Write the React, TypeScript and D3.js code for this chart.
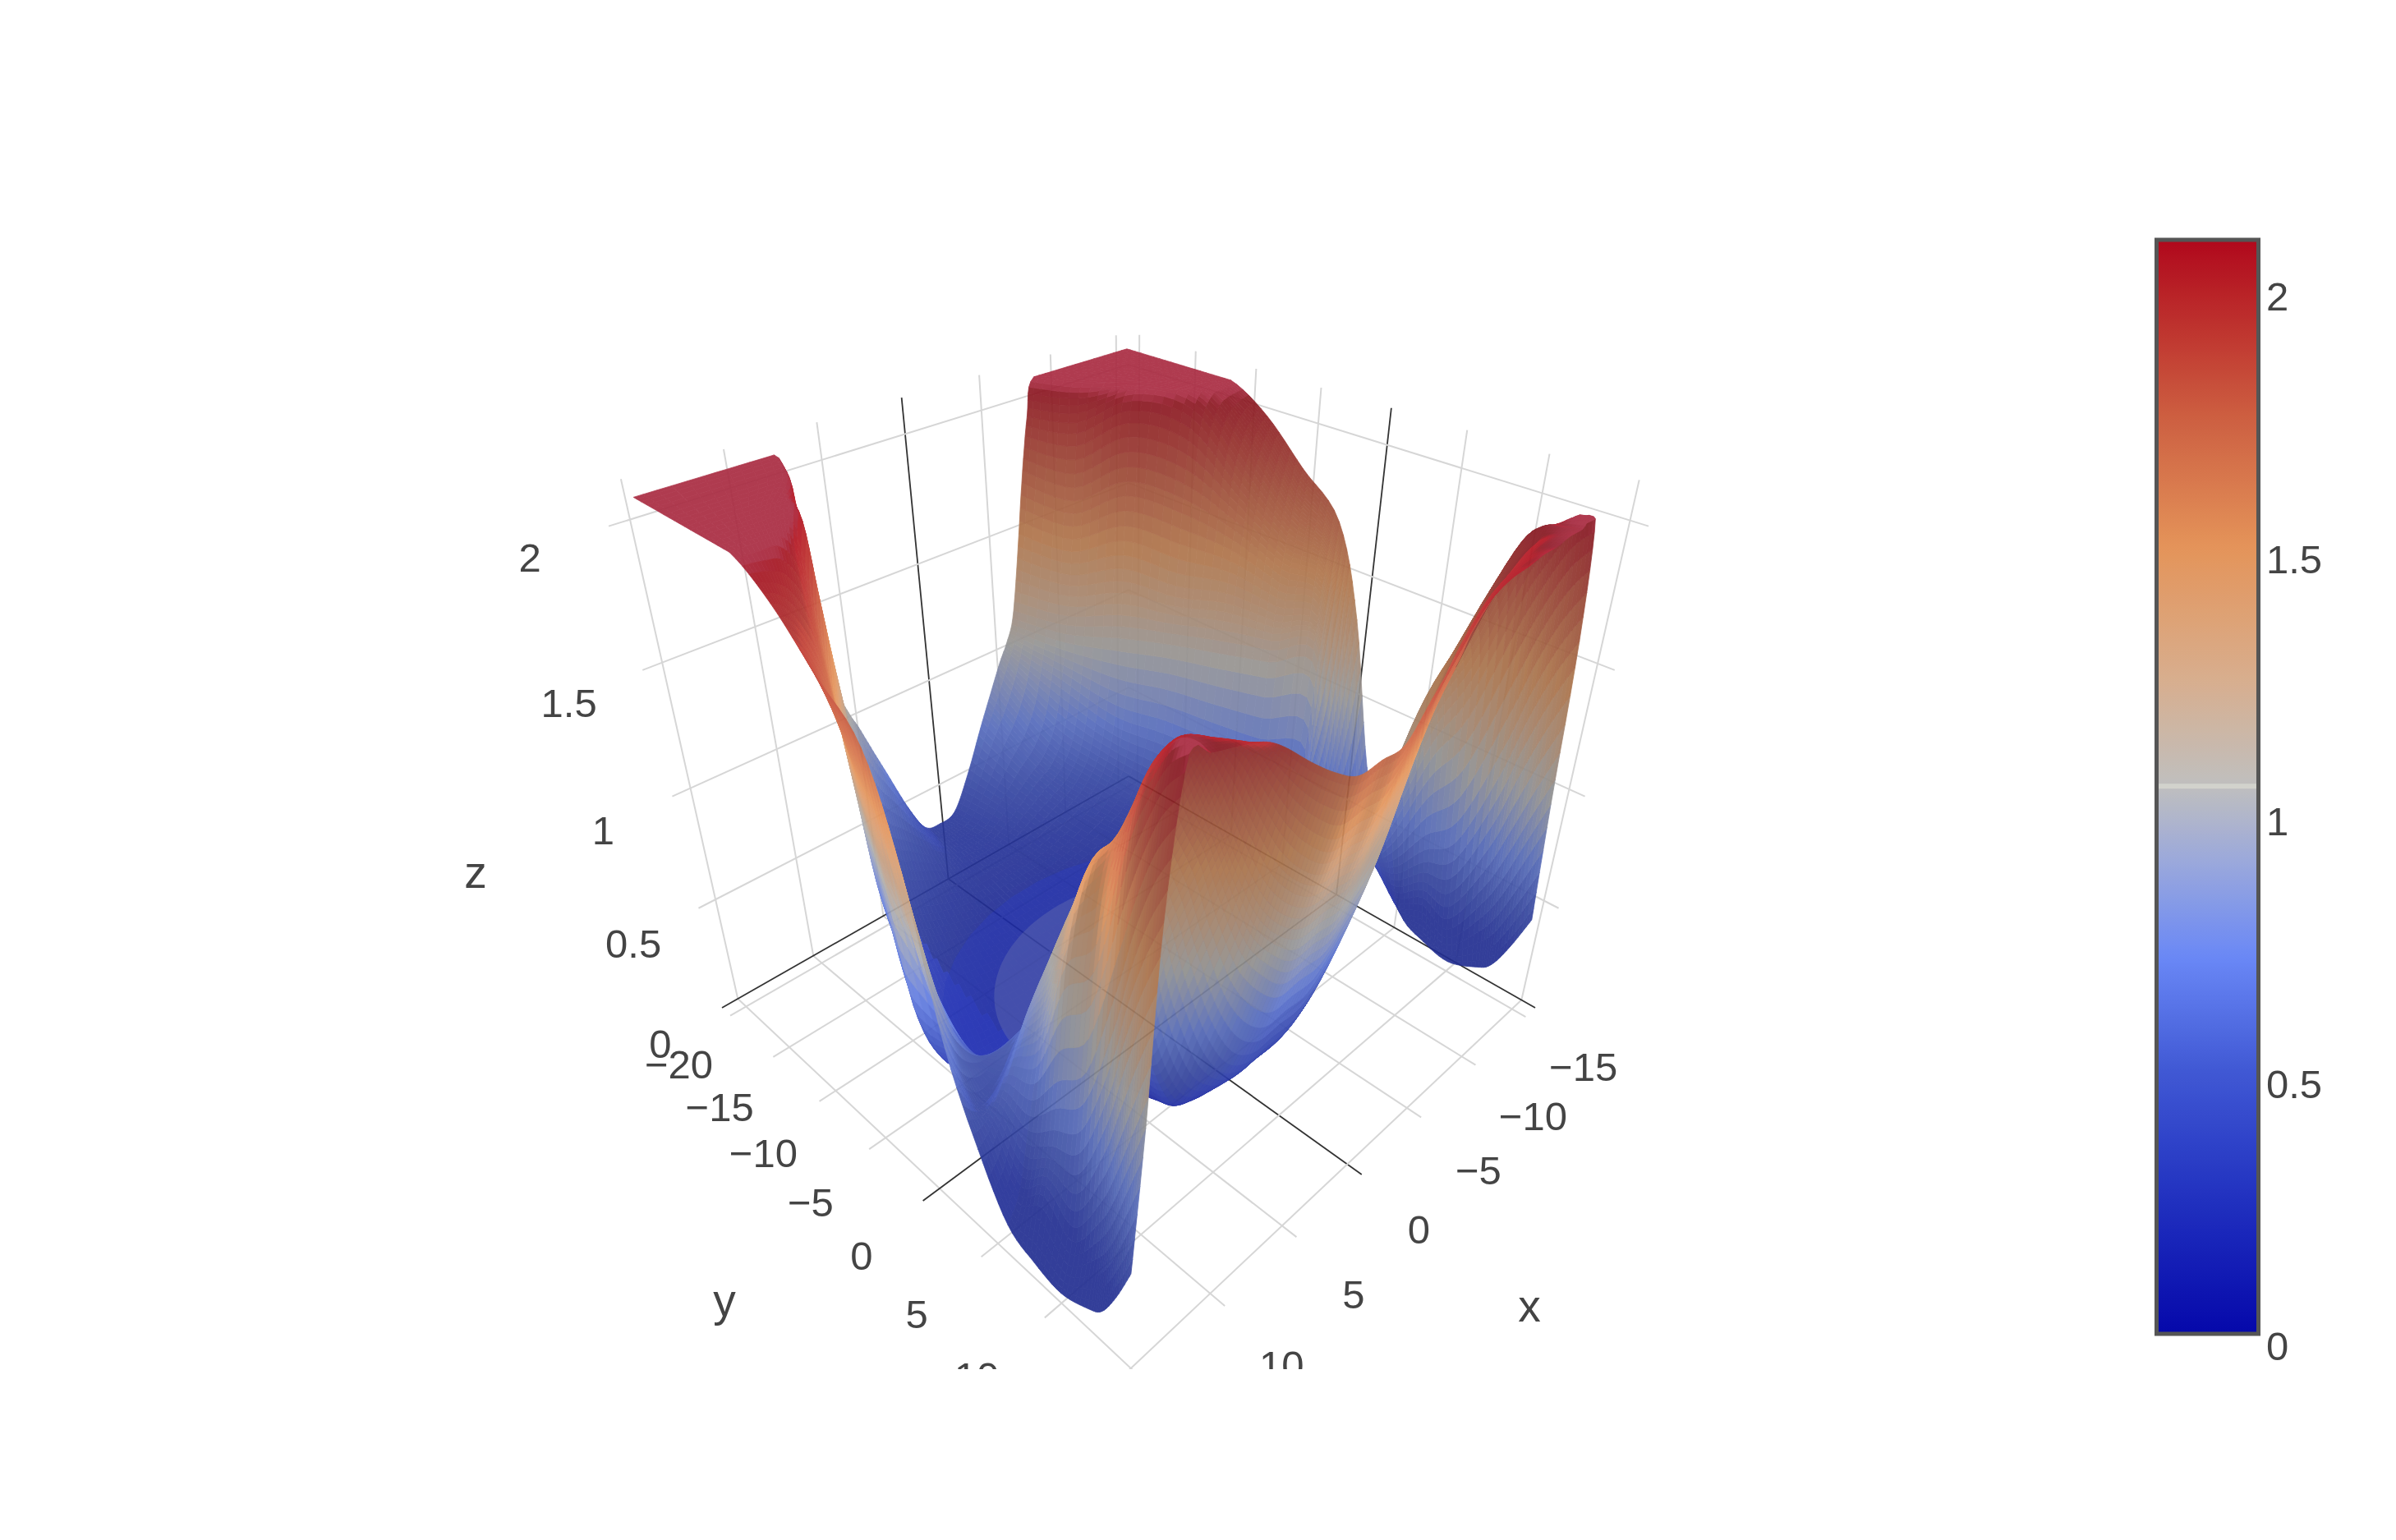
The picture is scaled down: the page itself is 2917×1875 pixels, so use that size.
import React, { useMemo } from "react";
import * as d3 from "d3";

// ---- data ----
const xTicks = [-15, -10, -5, 0, 5, 10, 15];
const yTicks = [-20, -15, -10, -5, 0, 5, 10, 15];
const zTicks = [0, 0.5, 1, 1.5, 2];
const xLabelTicks = [-15, -10, -5, 0, 5, 10];
const yLabelTicks = [-20, -15, -10, -5, 0, 5, 10];

const surfaceY = [-20, -17, -14, -11, -8, -5, -2, 0, 2, 4, 6, 8, 10, 12, 13, 14, 15];
const rowCenterShift = [0.8, 0.6, 0.4, 0.2, 0.1, 0, 0, 0, 0, 0, 0, 0, 0, 0, 0, 0, 0];
const commonAbsX = [0, 1.5, 3, 4.5, 6, 7.5, 8.5, 9.5, 10.5, 11.5, 12.5, 13.5, 14.25, 15];
const surfaceAbsX = [
  [0, 1.1, 2.2, 3.4, 4.2, 5, 5.5, 6, 6.5, 7, 7.5, 8, 11, 15],
  [0, 1.5, 3, 4.5, 5.6, 6.5, 7.1, 7.5, 7.9, 8.3, 8.7, 9.2, 12, 15],
  [0, 1.9, 3.7, 5.6, 7, 8.1, 8.8, 9.3, 9.5, 9.8, 10.2, 11.5, 13, 15],
  [0, 2.2, 4.3, 6.5, 8.1, 9.4, 10.3, 10.8, 11.1, 11.5, 12, 12.8, 13.8, 15],
  [0, 2.4, 4.8, 7.2, 9, 10.4, 11.4, 12, 12.4, 12.8, 13.2, 13.8, 14.4, 15],
  [0, 2.6, 5.3, 7.9, 9.9, 11.5, 12.6, 13.2, 13.5, 13.8, 14.1, 14.4, 14.7, 15],
  [0, 2.8, 5.7, 8.5, 10.6, 12.3, 13.5, 14.2, 14.4, 14.55, 14.7, 14.8, 14.9, 15],
  [0, 2.2, 4.4, 6.4, 8, 9.5, 10.8, 12, 12.9, 13.5, 14, 14.4, 14.7, 15],
  commonAbsX, commonAbsX, commonAbsX, commonAbsX, commonAbsX, commonAbsX, commonAbsX, commonAbsX, commonAbsX,
];
const surfaceZ = [
  [0.36, 0.38, 0.52, 0.72, 0.85, 0.98, 1.05, 1.15, 1.4, 1.7, 1.95, 2.09, 2.09, 2.09],
  [0.33, 0.35, 0.43, 0.52, 0.58, 0.7, 0.9, 1.1, 1.35, 1.65, 1.95, 2.09, 2.09, 2.09],
  [0.3, 0.3, 0.33, 0.38, 0.44, 0.55, 0.75, 1.1, 1.4, 1.75, 2.05, 2.09, 2.09, 2.09],
  [0.25, 0.25, 0.27, 0.31, 0.36, 0.46, 0.7, 1.1, 1.35, 1.7, 2.0, 2.09, 2.09, 2.09],
  [0.22, 0.22, 0.23, 0.26, 0.3, 0.4, 0.65, 1.1, 1.35, 1.6, 1.78, 1.9, 1.97, 2.0],
  [0.2, 0.2, 0.2, 0.22, 0.25, 0.35, 0.6, 1.1, 1.3, 1.48, 1.6, 1.7, 1.78, 1.85],
  [0.18, 0.18, 0.19, 0.22, 0.26, 0.35, 0.6, 1.1, 1.25, 1.38, 1.48, 1.55, 1.62, 1.7],
  [0.17, 0.17, 0.17, 0.2, 0.3, 0.35, 0.37, 0.42, 0.52, 0.62, 0.8, 1.0, 1.18, 1.35],
  [0.14, 0.14, 0.14, 0.14, 0.18, 0.3, 0.45, 0.6, 0.62, 0.58, 0.5, 0.48, 0.55, 0.75],
  [0.12, 0.12, 0.12, 0.14, 0.2, 0.5, 0.8, 1.0, 0.95, 0.85, 0.7, 0.55, 0.45, 0.4],
  [0.12, 0.12, 0.12, 0.14, 0.25, 0.6, 0.95, 1.2, 1.25, 1.1, 0.85, 0.5, 0.25, 0.15],
  [0.22, 0.22, 0.22, 0.24, 0.32, 0.6, 0.95, 1.3, 1.5, 1.45, 1.2, 0.6, 0.35, 0.08],
  [0.42, 0.42, 0.42, 0.5, 0.7, 1.0, 1.25, 1.45, 1.6, 1.65, 1.35, 0.7, 0.25, 0.05],
  [0.85, 0.85, 0.85, 0.95, 1.1, 1.35, 1.55, 1.7, 1.85, 1.92, 1.75, 1.05, 0.45, 0.1],
  [1.15, 1.15, 1.15, 1.22, 1.35, 1.55, 1.7, 1.85, 1.97, 2.02, 1.9, 1.3, 0.6, 0.15],
  [1.42, 1.42, 1.42, 1.5, 1.62, 1.78, 1.9, 1.98, 2.03, 2.06, 2.02, 1.5, 0.8, 0.28],
  [1.7, 1.7, 1.7, 1.76, 1.84, 1.93, 1.98, 2.01, 2.03, 2.05, 2.08, 1.65, 1.0, 0.45],
];
// rows on the x<0 side of the near half, which differ from the x>0 side
const negativeSideFirstRow = 9;
const surfaceZNegative = [
  [0.12, 0.12, 0.12, 0.12, 0.12, 0.12, 0.13, 0.15, 0.25, 0.35, 0.4, 0.42, 0.38, 0.4],
  [0.12, 0.12, 0.12, 0.12, 0.14, 0.25, 0.4, 0.55, 0.7, 0.75, 0.7, 0.45, 0.25, 0.15],
  [0.22, 0.22, 0.24, 0.35, 0.55, 0.75, 0.9, 1.1, 1.25, 1.3, 1.1, 0.6, 0.3, 0.08],
  [0.42, 0.48, 0.6, 0.9, 1.15, 1.3, 1.4, 1.5, 1.6, 1.6, 1.35, 0.7, 0.25, 0.05],
  [0.85, 0.95, 1.05, 1.3, 1.55, 1.7, 1.78, 1.85, 1.92, 1.95, 1.75, 1.05, 0.45, 0.1],
  [1.15, 1.28, 1.4, 1.6, 1.72, 1.85, 1.92, 1.97, 2.0, 2.04, 1.9, 1.3, 0.6, 0.15],
  [1.42, 1.55, 1.7, 1.85, 1.95, 2.0, 2.02, 2.04, 2.05, 2.06, 2.02, 1.5, 0.8, 0.28],
  [1.72, 1.8, 1.9, 2.0, 2.04, 2.05, 2.06, 2.06, 2.07, 2.07, 2.08, 1.65, 1.0, 0.45],
];

// the ring seen in the bottom of the bowl
const ringCenterX = -0.5;
const ringCenterY = -1.5;
const innerRingAngles = d3.range(0, 360, 10);
const outerRingAngles = d3.range(175, 375, 10);
const innerRingRadius = 8.7;
const outerRingRadius = 11.6;
const ringZ = 0.2;

const colorZ = [0, 0.25, 0.5, 0.72, 0.9, 1.05, 1.25, 1.5, 1.75, 2.09];
const colorRGB = ["#0508aa", "#2030bf", "#4058d4", "#6a88f6", "#9aa8dc", "#c0bfbe", "#d8ae8e", "#e4945a", "#cd5f41", "#b0081c"];
const zMax = 2.09;

// ---- scales ----
const xn = d3.scaleLinear().domain([-16, 16]).range([-1, 1]);
const yn = d3.scaleLinear().domain([-21, 16]).range([-1, 1]);
const colorOf = d3.scaleLinear<string>().domain(colorZ).range(colorRGB).interpolate(d3.interpolateRgb).clamp(true);
const barY = d3.scaleLinear().domain([0, 2.09]).range([1626, 291]);

const project = (x: number, y: number, z: number): [number, number, number] => {
  const X = xn(x), Y = yn(y);
  const h = (Y - X) / 2, d = (X + Y) / 2;
  const w = 1 - 0.2555 * d - 0.109 * z;
  return [1374 + (495 * h) / w, (1227 + 40.5 * d - 363 * z) / w, w];
};

const cr = (a: number, b: number, c: number, d: number, t: number) =>
  0.5 * (2 * b + (c - a) * t + (2 * a - 5 * b + 4 * c - d) * t * t + (3 * b - a - 3 * c + d) * t * t * t);

const linePath = (a: [number, number, number], b: [number, number, number]) => {
  const p = project(...a), q = project(...b);
  return `M${p[0]},${p[1]}L${q[0]},${q[1]}`;
};
const smooth = (a: number, b: number, t: number) => {
  const u = Math.max(0, Math.min(1, (t - a) / (b - a)));
  return u * u * (3 - 2 * u);
};

type V3 = [number, number, number];
const cross = (a: V3, b: V3): V3 => [a[1] * b[2] - a[2] * b[1], a[2] * b[0] - a[0] * b[2], a[0] * b[1] - a[1] * b[0]];
type Q = { d: string; fill: string; w: number; o?: number };

const ringPath = (r: number, angles: number[], closedCurve: boolean) => {
  const pt = (a: number) => project(ringCenterX + r * Math.cos((a * Math.PI) / 180), ringCenterY + r * Math.sin((a * Math.PI) / 180), ringZ);
  return d3.line<number>()
    .x((a) => pt(a)[0])
    .y((a) => pt(a)[1])
    .curve(closedCurve ? d3.curveCardinalClosed : d3.curveLinearClosed)(angles) as string;
};

function buildMesh() {
  const nc = commonAbsX.length;
  const signs = [...d3.range(nc - 1, 0, -1).map((k) => ({ s: -1, k })), ...d3.range(0, nc).map((k) => ({ s: 1, k }))];
  const Z = surfaceY.map((_, r) =>
    signs.map((c) => (c.s < 0 && r >= negativeSideFirstRow ? surfaceZNegative[r - negativeSideFirstRow][c.k] : surfaceZ[r][c.k]))
  );
  const Xf = surfaceY.map((_, r) =>
    signs.map((c) => {
      const a = surfaceAbsX[r][c.k];
      return c.s * a + rowCenterShift[r] * Math.max(0, 1 - (a / 8) * (a / 8));
    })
  );
  const Yf = surfaceY.map((y) => signs.map(() => y));
  const R = surfaceY.length, C = signs.length;
  const S = 6;
  const cl = (a: number, m: number) => Math.max(0, Math.min(m - 1, a));
  const sample = (f: number[][], r: number, c: number, tr: number, tc: number) => {
    const col = [0, 1, 2, 3].map((i) => {
      const row = f[cl(r - 1 + i, R)];
      return cr(row[cl(c - 1, C)], row[c], row[cl(c + 1, C)], row[cl(c + 2, C)], tc);
    });
    return cr(col[0], col[1], col[2], col[3], tr);
  };
  const NR = (R - 1) * S + 1, NC = (C - 1) * S + 1;
  const pts: { x: number; y: number; z: number; p: V3 }[][] = [];
  for (let i = 0; i < NR; i++) {
    const r = Math.min(R - 2, Math.floor(i / S)), tr = i / S - r;
    const row = [];
    for (let j = 0; j < NC; j++) {
      const c = Math.min(C - 2, Math.floor(j / S)), tc = j / S - c;
      const x = sample(Xf, r, c, tr, tc), y = sample(Yf, r, c, tr, tc);
      const z = Math.max(0.02, Math.min(zMax, sample(Z, r, c, tr, tc)));
      row.push({ x, y, z, p: project(x, y, z) });
    }
    pts.push(row);
  }
  const n3 = (q: { x: number; y: number; z: number }): V3 => [xn(q.x), yn(q.y), q.z * 1.04];
  const quads: Q[] = [];
  const cap = d3.rgb("#a92b41");
  for (let i = 0; i < NR - 1; i++)
    for (let j = 0; j < NC - 1; j++) {
      const a = pts[i][j], b = pts[i][j + 1], c = pts[i + 1][j + 1], e = pts[i + 1][j];
      const zm = (a.z + b.z + c.z + e.z) / 4;
      const xm = (a.x + b.x + c.x + e.x) / 4, ym = (a.y + b.y + c.y + e.y) / 4;
      const w = (a.p[2] + b.p[2] + c.p[2] + e.p[2]) / 4;
      const area2 = Math.abs((c.p[0] - a.p[0]) * (e.p[1] - b.p[1]) - (c.p[1] - a.p[1]) * (e.p[0] - b.p[0])) / 2;
      const A = n3(a), B = n3(b), CC = n3(c), E = n3(e);
      const nn = cross([CC[0] - A[0], CC[1] - A[1], CC[2] - A[2]], [E[0] - B[0], E[1] - B[1], E[2] - B[2]]);
      const area3 = Math.hypot(nn[0], nn[1], nn[2]) / 2 || 1e-6;
      const facing = (area2 * w * w) / (350 * 350 * area3);
      // grazing parts of the sheet read brighter, but the low blue end stays muted
      const dull = ym > 6 ? 0.7 : 0.73;
      const brightTop = 0.82 + 0.18 * smooth(1.1, 1.45, zm);
      let f = dull + (brightTop - dull) * (1 - smooth(0.2, 0.42, facing));
      if (xm < -6 && ym > 6 && ym < 13.5) f = dull;
      if (xm > 13 && ym > 6) f = dull;
      if (xm > 8 && ym < 0) f = Math.max(f, 0.9);
      // the sheets along the side edges look a little lighter at their low end
      const zc = Math.abs(xm) > 12 && ym > 4 ? Math.max(zm, 0.28) : zm;
      const rgb = d3.rgb(colorOf(zc));
      const lift = (1 - f) * 30;
      const base = d3.rgb(rgb.r * f + lift, rgb.g * f + lift, rgb.b * f + lift);
      const t = smooth(2.04, 2.08, zm);
      const col = d3.rgb(base.r + (cap.r - base.r) * t, base.g + (cap.g - base.g) * t, base.b + (cap.b - base.b) * t);
      quads.push({
        d: `M${a.p[0].toFixed(1)},${a.p[1].toFixed(1)}L${b.p[0].toFixed(1)},${b.p[1].toFixed(1)}L${c.p[0].toFixed(1)},${c.p[1].toFixed(1)}L${e.p[0].toFixed(1)},${e.p[1].toFixed(1)}Z`,
        fill: col.formatHex(),
        w,
      });
    }
  quads.push({ d: ringPath(outerRingRadius, outerRingAngles, false), fill: "#1c2cb4", w: 0.885, o: 0.5 });
  quads.push({ d: ringPath(innerRingRadius, innerRingAngles, true), fill: "#4a56a8", w: 0.88, o: 0.55 });
  quads.sort((p, q) => q.w - p.w);
  return quads;
}

const font = "'Liberation Sans', Arial, sans-serif";
const fmt = (v: number) => String(v).replace("-", "\u2212");

export default function App() {
  const quads = useMemo(buildMesh, []);
  const [x0, x1] = xn.domain();
  const [y0, y1] = yn.domain();
  const zTop = 2.13;
  const barStops = d3.range(0, 1.0001, 0.01);
  const lineProps = (t: number) => ({ stroke: t === 0 ? "#333" : undefined, strokeWidth: t === 0 ? 1.8 : 2 });
  return (
    <svg width={2917} height={1875} style={{ position: "absolute", left: 0, top: 0, background: "#fff" }}>
      <defs>
        <clipPath id="scene"><rect x={0} y={0} width={2400} height={1667} /></clipPath>
        <linearGradient id="bar" x1="0" y1="1" x2="0" y2="0">
          {barStops.map((t) => <stop key={t} offset={t} stopColor={colorOf(t * 2.09)} />)}
        </linearGradient>
      </defs>
      <g clipPath="url(#scene)">
        <g fill="none" stroke="#d6d6d6" strokeWidth={2}>
          {xTicks.map((t) => <path key={`fx${t}`} d={linePath([t, y0, 0], [t, y1, 0])} {...lineProps(t)} />)}
          {yTicks.map((t) => <path key={`fy${t}`} d={linePath([x0, t, 0], [x1, t, 0])} {...lineProps(t)} />)}
          {xTicks.map((t) => <path key={`wx${t}`} d={linePath([t, y0, 0], [t, y0, zTop])} {...lineProps(t)} />)}
          {yTicks.map((t) => <path key={`wy${t}`} d={linePath([x0, t, 0], [x0, t, zTop])} {...lineProps(t)} />)}
          {zTicks.map((t) => <path key={`za${t}`} d={linePath([x1, y0, t], [x0, y0, t])} {...lineProps(t)} />)}
          {zTicks.map((t) => <path key={`zb${t}`} d={linePath([x0, y1, t], [x0, y0, t])} {...lineProps(t)} />)}
        </g>
        <g opacity={0.92}>
          {quads.map((q, i) =>
            q.o ? <path key={i} d={q.d} fill={q.fill} opacity={q.o} /> : <path key={i} d={q.d} fill={q.fill} stroke={q.fill} strokeWidth={0.8} />
          )}
        </g>
        <g fontFamily={font} fontSize={49} fill="#444" textAnchor="middle" dominantBaseline="central">
          {yLabelTicks.map((t) => {
            const p = project(15, t, 0);
            return <text key={`ly${t}`} x={p[0] - 82 / p[2]} y={p[1] + 71 / p[2]}>{fmt(t)}</text>;
          })}
          {xLabelTicks.map((t) => {
            const p = project(t, 15, 0);
            return <text key={`lx${t}`} x={p[0] + 87} y={p[1] + 70 / p[2]}>{fmt(t)}</text>;
          })}
          {zTicks.map((t) => {
            const p = project(x1, y0, t);
            return <text key={`lz${t}`} x={p[0] - 75 / p[2]} y={p[1] + (44 - 7 * t) / p[2]}>{t}</text>;
          })}
        </g>
      </g>
      <g fontFamily={font} fontSize={55} fill="#444" textAnchor="middle" dominantBaseline="central">
        <text x={579} y={1062}>z</text>
        <text x={882} y={1583}>y</text>
        <text x={1862} y={1590}>x</text>
      </g>
      <rect x={2625.5} y={292} width={124} height={1332} fill="url(#bar)" stroke="#555" strokeWidth={5} />
      <rect x={2628} y={barY(1.047) - 3} width={119} height={6} fill="#d2d2cc" />
      <g fontFamily={font} fontSize={49} fill="#444" dominantBaseline="central">
        {zTicks.map((t) => <text key={t} x={2759} y={barY(t) + 13}>{t}</text>)}
      </g>
    </svg>
  );
}
